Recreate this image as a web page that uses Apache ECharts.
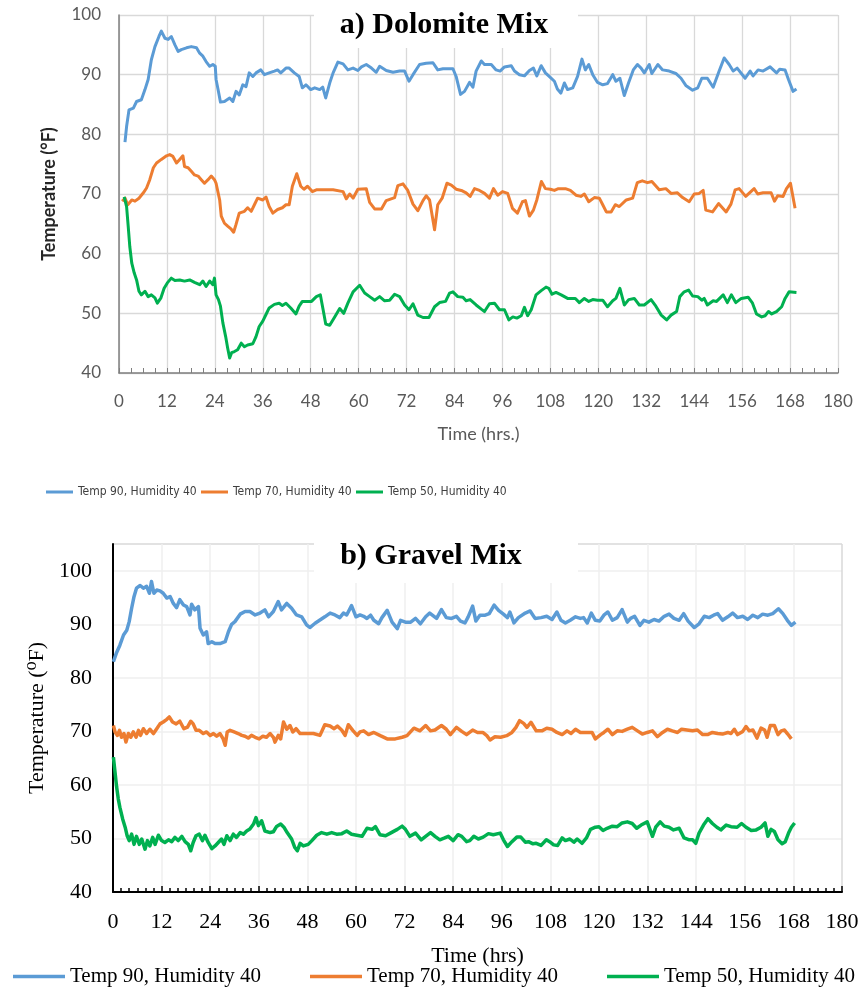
<!DOCTYPE html>
<html>
<head>
<meta charset="utf-8">
<script src="https://cdn.jsdelivr.net/npm/echarts@6/dist/echarts.min.js"></script>
<style>
  html, body { margin: 0; padding: 0; background: #fff; }
  #chart { width: 862px; height: 991px; }
</style>
</head>
<body>
<div id="chart"></div>
<script>
// Temperature logs, [hour, °F] pairs
const dolomite90 = [[1.5,78.7],[1.9,81.3],[2.5,84.1],[3.6,84.4],[4.4,85.5],[5.6,85.8],[6.5,87.5],[7.3,89.2],[8.1,92.5],[9.0,94.7],[10.0,96.4],[10.6,97.3],[11.5,96.1],[12.3,95.9],[13.1,96.4],[14.0,95.0],[14.8,93.9],[15.6,94.2],[16.9,94.5],[18.1,94.7],[19.4,94.5],[20.2,93.6],[21.0,93.1],[21.8,92.2],[22.7,91.4],[23.5,91.7],[24.1,91.4],[24.3,89.2],[24.8,87.5],[25.4,85.4],[26.4,85.5],[27.7,86.1],[28.5,85.5],[29.3,87.2],[30.1,86.6],[31.0,88.3],[31.8,88.0],[32.6,90.3],[33.5,89.7],[34.3,90.3],[35.5,90.8],[36.4,90.0],[37.6,90.3],[38.9,90.6],[39.7,90.8],[40.5,90.3],[41.8,91.1],[42.6,91.1],[43.9,90.3],[45.1,89.7],[45.9,87.8],[46.8,88.3],[48.0,87.5],[49.0,87.8],[50.25,87.5],[51.0,87.9],[51.75,86.1],[52.75,88.6],[53.6,90.3],[54.8,92.1],[56.1,91.8],[57.3,90.8],[58.6,91.1],[59.8,90.7],[60.7,91.3],[61.9,91.7],[63.2,91.1],[64.4,90.4],[65.25,91.4],[66.9,90.7],[68.6,90.4],[70.25,90.6],[71.5,90.6],[72.6,88.9],[73.6,90.0],[75.25,91.7],[76.9,91.9],[78.6,92.0],[79.8,90.8],[81.1,91.0],[83.6,91.0],[84.4,89.7],[85.5,86.7],[86.5,87.2],[87.75,88.7],[88.6,87.9],[89.4,90.6],[90.7,92.3],[91.5,91.7],[93.2,91.7],[94.4,90.8],[95.4,90.6],[96.5,91.3],[98.2,91.5],[99.0,90.6],[100.25,90.0],[101.5,89.8],[102.75,90.7],[103.75,91.1],[104.6,89.8],[105.7,91.5],[106.75,90.3],[107.9,89.6],[109.0,88.9],[109.75,87.6],[110.6,86.9],[111.5,88.6],[112.3,87.5],[113.6,87.8],[114.8,89.7],[115.9,92.6],[116.75,90.8],[117.6,91.7],[118.6,90.0],[119.8,88.7],[121.1,88.3],[122.3,88.5],[123.6,90.0],[124.4,88.9],[125.4,89.4],[126.5,86.5],[127.6,88.7],[128.75,90.8],[129.8,91.7],[130.7,91.1],[131.5,90.3],[132.75,91.7],[133.4,90.2],[134.9,91.7],[136.1,90.8],[137.75,90.6],[139.4,90.2],[140.7,89.4],[141.9,88.2],[143.6,87.4],[144.9,87.8],[145.9,89.4],[147.3,89.4],[148.75,87.9],[150.25,90.6],[151.5,92.8],[152.75,91.7],[153.75,90.6],[154.75,91.1],[156.75,89.4],[158.0,90.6],[158.75,89.8],[160.0,90.8],[161.25,90.6],[163.0,91.3],[164.6,90.3],[165.4,90.9],[166.75,90.8],[167.6,89.2],[168.75,87.2],[169.6,87.6]];

const dolomite70 = [[0.8,68.8],[1.5,69.3],[2.2,68.2],[3.2,69.0],[4.0,68.8],[5.0,69.3],[6.1,70.2],[6.9,71.0],[7.7,72.4],[8.6,74.4],[9.4,75.2],[10.6,75.8],[11.9,76.4],[12.7,76.6],[13.5,76.3],[14.4,75.2],[15.2,75.8],[16.0,76.4],[16.4,74.6],[17.3,74.4],[18.1,73.8],[18.9,73.2],[19.8,73.0],[20.6,72.4],[21.4,71.8],[22.3,72.4],[23.1,73.0],[23.9,72.4],[24.3,71.8],[25.2,69.0],[25.6,66.3],[26.4,65.1],[27.2,64.6],[28.1,64.1],[28.7,63.6],[29.3,64.9],[30.1,66.8],[31.4,67.1],[32.2,67.7],[33.1,67.1],[33.9,68.2],[34.7,69.3],[36.0,69.0],[36.8,69.5],[37.6,67.9],[38.5,66.8],[39.7,67.4],[40.9,67.7],[41.8,68.2],[42.6,68.2],[43.4,71.3],[44.5,73.4],[45.5,71.3],[46.3,70.8],[47.2,71.3],[48.4,70.4],[49.4,70.7],[51.5,70.7],[53.6,70.7],[56.1,70.4],[56.9,69.2],[57.75,70.0],[58.6,69.3],[59.8,70.8],[61.9,70.9],[62.75,68.6],[64.0,67.5],[65.7,67.5],[66.9,68.9],[69.0,69.4],[69.8,71.4],[71.1,71.7],[72.3,70.6],[73.6,68.3],[74.8,67.2],[76.1,68.9],[76.9,69.7],[77.75,69.0],[78.6,65.6],[79.0,64.0],[79.8,68.2],[80.9,69.3],[82.1,71.8],[83.2,71.5],[84.4,70.8],[85.7,70.6],[86.9,70.2],[87.9,69.6],[89.0,70.9],[90.25,70.6],[91.5,70.1],[92.75,69.3],[93.75,70.9],[94.8,69.8],[96.0,70.4],[97.3,70.1],[98.5,67.6],[99.75,66.8],[101.0,68.7],[101.75,68.9],[102.75,66.3],[103.75,67.3],[104.6,69.0],[105.75,72.1],[106.75,70.9],[108.0,70.8],[109.0,70.6],[110.0,70.9],[111.75,70.9],[113.0,70.6],[114.4,69.8],[115.6,69.6],[116.5,70.0],[117.6,68.7],[119.0,69.4],[120.25,69.3],[121.1,68.2],[122.0,67.0],[123.2,67.0],[124.25,68.2],[125.25,67.9],[127.0,69.0],[128.6,69.3],[129.75,71.9],[131.0,72.2],[132.3,71.9],[133.4,72.1],[135.25,70.7],[136.9,70.9],[138.2,70.1],[139.8,70.2],[141.1,69.4],[142.75,68.7],[144.0,70.0],[145.25,70.1],[146.25,70.6],[146.9,67.3],[148.6,67.0],[150.1,68.4],[152.0,67.0],[153.2,68.3],[154.25,70.7],[155.25,70.9],[156.9,69.6],[159.0,70.9],[159.9,70.0],[161.25,70.2],[163.25,70.2],[164.1,68.8],[164.9,69.7],[166.25,69.6],[167.1,70.9],[168.1,71.8],[169.25,67.6]];

const dolomite50 = [[1.3,69.5],[1.9,67.9],[2.3,64.6],[2.7,61.2],[3.2,58.4],[3.8,56.8],[4.4,55.6],[5.0,53.7],[5.6,53.1],[6.5,53.7],[7.3,52.8],[8.1,53.1],[9.0,52.6],[9.6,51.7],[10.5,52.6],[11.3,54.2],[12.1,55.1],[13.1,55.9],[14.0,55.5],[15.2,55.6],[16.4,55.4],[17.7,55.6],[18.9,55.2],[20.2,54.8],[21.0,55.4],[21.8,54.5],[22.7,55.4],[23.5,54.8],[23.9,55.9],[24.3,53.1],[24.9,52.3],[25.4,51.2],[26.0,48.4],[26.7,46.1],[27.2,44.2],[27.7,42.5],[28.2,43.4],[28.9,43.6],[29.7,43.9],[30.6,45.0],[31.4,44.4],[32.2,44.7],[33.5,44.9],[34.3,46.1],[35.1,47.8],[36.0,48.7],[36.8,49.8],[37.6,50.9],[38.9,51.5],[40.1,51.7],[40.9,51.3],[41.8,51.7],[43.0,50.9],[44.3,49.9],[45.1,51.2],[45.9,52.0],[47.2,52.0],[48.2,52.0],[49.4,52.8],[50.4,53.1],[51.1,50.6],[51.75,48.2],[52.75,48.0],[54.0,49.4],[55.25,50.8],[56.25,50.0],[57.3,51.7],[58.6,53.6],[60.25,54.7],[61.5,53.4],[62.75,52.8],[64.0,52.2],[65.25,52.8],[66.5,52.1],[67.75,52.2],[69.0,53.2],[70.25,52.8],[71.5,51.4],[72.6,50.6],[73.6,51.6],[74.8,49.7],[76.1,49.3],[77.6,49.3],[79.0,51.1],[80.25,51.8],[81.75,52.0],[82.75,53.4],[83.6,53.6],[84.8,52.8],[86.1,52.7],[86.9,52.1],[87.9,52.3],[89.4,51.4],[90.7,50.7],[91.5,50.3],[92.75,51.6],[94.0,51.7],[95.25,50.6],[96.5,50.6],[97.6,48.9],[98.6,49.4],[99.6,49.2],[100.7,49.6],[101.5,51.0],[102.3,49.6],[103.2,50.6],[104.4,53.1],[105.7,53.8],[106.9,54.4],[107.6,54.2],[108.4,53.2],[109.4,53.5],[110.7,53.1],[112.3,52.5],[114.25,52.5],[115.25,51.8],[116.5,52.5],[117.6,52.0],[118.6,52.3],[119.8,52.2],[121.1,52.2],[122.3,51.1],[123.6,52.1],[124.4,52.5],[125.4,54.2],[126.5,51.4],[127.6,52.3],[129.0,52.5],[130.25,51.4],[131.5,51.4],[133.2,52.3],[134.4,51.2],[135.75,49.7],[137.1,48.9],[138.2,49.7],[139.6,50.3],[140.4,52.8],[141.5,53.6],[142.6,53.9],[143.6,52.9],[144.9,52.8],[145.9,52.2],[146.5,52.5],[147.3,51.4],[148.75,52.1],[149.6,52.0],[151.25,53.1],[152.3,51.8],[153.3,53.1],[154.4,51.8],[155.8,52.5],[157.5,52.7],[158.6,51.7],[159.6,49.9],[160.9,49.4],[161.75,49.6],[162.6,50.3],[163.4,49.9],[164.6,50.3],[165.9,51.1],[166.75,52.5],[167.75,53.6],[169.6,53.5]];

const gravel90 = [[0.1,83.0],[0.9,84.75],[1.7,86.1],[2.6,88.0],[3.4,88.9],[4.0,90.5],[4.6,93.0],[5.2,95.2],[5.8,96.75],[6.7,97.25],[7.5,96.75],[8.3,97.1],[9.0,95.8],[9.5,98.0],[10.1,95.8],[10.8,96.4],[11.6,96.25],[12.4,95.8],[13.3,94.9],[14.1,95.2],[14.9,93.9],[15.7,93.1],[16.5,94.6],[17.4,93.6],[18.2,93.3],[19.0,91.75],[19.4,93.75],[20.2,92.7],[21.1,93.3],[21.5,89.25],[22.3,88.0],[23.1,88.6],[23.5,86.4],[24.4,86.75],[25.2,86.4],[26.4,86.4],[27.7,86.75],[28.5,88.6],[29.3,90.0],[30.1,90.5],[31.4,91.9],[32.6,92.4],[33.8,92.4],[35.1,91.75],[36.3,92.1],[37.5,92.7],[38.4,91.4],[39.6,92.4],[40.8,94.25],[41.6,92.7],[42.9,93.9],[44.1,93.0],[45.3,91.75],[46.6,91.4],[47.8,89.9],[48.6,89.4],[49.9,90.2],[51.1,90.8],[52.3,91.4],[53.6,92.1],[54.8,91.75],[56.0,91.25],[56.9,92.1],[57.7,91.75],[58.9,93.5],[60.0,91.4],[61.0,91.75],[61.9,91.5],[62.7,91.1],[63.6,91.7],[64.4,90.75],[65.6,90.1],[66.4,91.25],[67.7,92.6],[68.9,90.4],[70.2,89.2],[71.0,90.75],[72.2,90.4],[73.5,90.4],[74.7,91.1],[75.9,90.1],[77.2,91.4],[78.2,92.1],[79.9,91.1],[81.1,92.75],[82.3,91.25],[83.6,91.1],[84.8,91.5],[85.8,90.6],[86.9,90.25],[87.7,91.4],[88.8,93.4],[89.6,90.6],[90.6,91.7],[91.9,91.7],[92.9,92.0],[94.1,93.6],[95.2,92.6],[96.4,91.9],[97.4,91.25],[98.0,92.3],[99.0,90.25],[100.1,91.25],[101.8,92.1],[103.0,92.5],[104.2,91.1],[105.7,91.25],[107.1,91.5],[108.4,90.9],[109.6,92.3],[110.6,90.75],[111.7,90.25],[112.9,90.75],[114.2,91.4],[115.4,91.1],[116.2,91.25],[117.1,90.25],[118.1,92.1],[119.1,90.75],[120.2,90.6],[121.2,91.7],[122.2,92.3],[123.3,90.75],[124.5,91.25],[125.7,92.75],[127.0,90.4],[127.8,91.1],[128.8,91.5],[130.1,89.8],[131.1,90.75],[132.3,90.4],[133.6,90.9],[134.8,90.6],[136.1,91.5],[137.3,91.9],[138.5,91.1],[139.8,90.75],[140.9,92.0],[142.0,90.6],[143.5,89.4],[144.7,90.1],[146.0,91.5],[147.2,91.25],[148.3,91.7],[149.3,92.0],[150.5,90.75],[151.8,91.4],[153.0,92.1],[154.2,91.25],[155.5,91.5],[156.7,90.9],[158.0,91.7],[159.2,91.25],[160.4,91.9],[161.7,91.7],[162.9,92.0],[164.3,92.9],[165.4,92.0],[166.5,90.75],[167.5,89.8],[168.5,90.4]];

const gravel70 = [[0.1,71.1],[0.5,69.9],[1.1,69.25],[1.6,70.2],[2.1,68.9],[2.7,69.6],[3.2,68.0],[3.8,69.6],[4.4,68.9],[5.0,69.9],[5.7,68.9],[6.3,70.2],[6.8,69.25],[7.5,70.5],[8.3,69.6],[9.1,70.4],[10.0,69.6],[10.8,70.5],[11.6,71.4],[12.4,71.75],[13.3,72.25],[13.9,72.7],[14.7,71.75],[15.6,71.4],[16.5,71.9],[17.5,70.5],[18.4,70.8],[19.2,71.9],[19.8,71.4],[20.5,70.2],[21.3,70.2],[22.3,69.6],[23.1,69.9],[24.0,69.25],[24.8,69.6],[25.6,69.1],[26.4,69.6],[27.2,68.6],[27.7,67.4],[28.2,69.9],[28.9,70.2],[29.9,69.9],[30.9,69.6],[31.8,69.25],[32.6,69.1],[33.4,68.75],[34.2,69.25],[35.1,68.9],[36.1,68.6],[37.0,69.1],[37.9,68.9],[38.8,69.6],[39.6,68.9],[40.0,68.0],[40.8,69.25],[41.4,68.6],[42.1,71.75],[42.9,70.4],[43.7,71.1],[44.4,69.9],[45.2,70.5],[46.2,69.6],[47.8,69.6],[49.5,69.6],[51.1,69.25],[52.3,71.25],[53.6,71.0],[54.6,70.5],[55.4,71.0],[56.5,70.2],[57.3,69.25],[58.1,71.25],[59.2,70.2],[60.3,69.25],[61.0,69.9],[61.9,70.1],[63.1,69.4],[64.4,69.8],[66.0,69.2],[67.7,68.6],[69.7,68.6],[71.4,68.9],[72.6,69.2],[74.3,70.6],[75.8,70.1],[77.2,71.1],[78.4,70.1],[79.5,70.25],[81.1,71.1],[82.3,70.4],[83.3,69.4],[84.8,70.75],[86.1,70.0],[87.3,69.4],[88.8,70.25],[90.0,69.8],[91.3,69.8],[92.3,69.2],[93.1,68.4],[94.3,69.0],[95.7,68.9],[97.2,69.2],[98.5,69.8],[99.5,70.75],[100.4,72.0],[101.4,71.5],[102.2,70.75],[103.2,71.7],[104.5,70.1],[105.9,70.1],[107.1,70.6],[108.4,70.4],[109.6,69.8],[110.9,69.4],[112.1,70.1],[113.1,69.6],[114.2,70.4],[115.4,69.8],[117.1,69.8],[118.3,69.8],[119.1,68.6],[120.4,69.4],[121.2,69.8],[122.2,70.4],[123.3,69.4],[124.5,70.1],[125.7,70.0],[127.0,70.4],[128.2,70.75],[129.5,70.1],[130.7,69.5],[131.9,69.8],[133.2,70.1],[134.4,69.0],[135.7,69.8],[136.9,70.4],[138.1,70.1],[139.4,69.8],[140.4,70.4],[141.7,70.25],[143.1,70.1],[144.3,70.25],[145.6,69.4],[146.8,69.4],[148.0,69.8],[149.3,69.6],[150.5,69.5],[151.8,69.8],[152.6,69.6],[153.4,70.4],[154.2,69.4],[155.5,70.0],[156.3,70.9],[157.1,70.1],[158.0,70.25],[159.0,68.75],[160.0,70.6],[160.9,70.25],[161.5,68.9],[162.3,71.1],[163.3,71.1],[164.2,69.4],[165.0,70.1],[165.8,70.25],[166.6,69.5],[167.5,68.6]];

const gravel50 = [[0.1,65.2],[0.5,62.4],[0.9,59.6],[1.3,57.4],[1.7,55.8],[2.4,53.6],[3.0,52.1],[3.5,50.5],[4.0,49.6],[4.6,50.8],[5.2,48.9],[5.8,50.4],[6.5,48.9],[7.1,49.9],[7.9,48.0],[8.5,49.6],[9.1,48.6],[9.8,50.2],[10.4,48.9],[11.2,50.6],[12.0,49.6],[12.8,49.25],[13.7,49.75],[14.5,49.4],[15.3,50.2],[16.1,49.6],[17.0,50.4],[17.8,49.4],[18.6,48.9],[19.2,47.7],[19.8,49.25],[20.5,50.5],[21.3,50.8],[22.1,49.6],[22.7,50.6],[23.5,49.25],[24.4,48.1],[25.2,48.6],[26.0,49.25],[26.8,49.9],[27.4,48.9],[28.1,50.5],[28.9,49.6],[29.7,50.8],[30.5,50.2],[31.4,51.1],[32.2,50.8],[33.0,51.4],[33.8,51.75],[34.7,52.7],[35.3,53.9],[35.9,52.4],[36.7,53.3],[37.5,51.4],[38.8,51.1],[39.6,51.25],[40.4,52.25],[41.4,52.7],[42.2,52.1],[43.0,51.1],[44.1,49.9],[44.9,48.3],[45.5,47.7],[46.2,49.1],[47.0,48.6],[48.2,48.9],[49.1,49.6],[50.3,50.6],[51.5,51.1],[52.8,50.8],[54.0,51.1],[55.2,50.8],[56.5,50.9],[57.7,51.4],[58.9,50.8],[60.2,50.6],[61.5,50.4],[62.7,51.9],[64.0,51.7],[64.8,52.2],[65.9,50.7],[67.3,50.5],[68.5,51.0],[70.2,51.7],[71.4,52.3],[72.2,51.7],[73.3,50.4],[74.7,51.0],[76.1,49.75],[77.2,50.4],[78.4,51.1],[79.5,50.4],[80.7,49.75],[81.9,50.1],[82.8,50.4],[84.0,49.6],[85.2,50.7],[86.1,50.4],[87.3,49.4],[88.1,49.6],[89.1,50.4],[90.2,49.9],[91.4,50.25],[92.7,50.9],[93.9,50.7],[95.6,51.0],[96.4,49.75],[97.4,48.5],[98.5,49.4],[99.7,50.25],[100.7,50.25],[101.8,49.3],[102.6,49.4],[103.7,49.0],[104.5,49.1],[105.7,48.7],[107.0,49.75],[107.8,49.4],[108.8,48.8],[109.8,48.7],[110.9,50.1],[111.7,49.6],[112.8,49.9],[113.8,49.3],[114.6,49.9],[115.8,49.1],[116.9,50.1],[117.9,51.7],[119.1,52.1],[120.0,52.2],[121.0,51.5],[122.0,51.9],[123.3,52.3],[124.5,52.2],[125.7,52.9],[127.0,53.1],[128.2,52.8],[129.3,51.9],[130.4,52.5],[131.9,53.1],[133.2,50.4],[134.0,52.1],[135.1,53.1],[136.1,52.3],[137.3,52.1],[138.4,51.6],[139.8,51.9],[141.0,50.1],[142.3,49.75],[143.1,49.75],[143.9,49.1],[144.7,51.0],[145.8,52.5],[146.9,53.7],[148.0,52.8],[149.1,52.1],[150.1,51.6],[151.4,52.5],[152.6,52.2],[154.1,52.1],[155.2,52.8],[156.3,52.1],[157.6,51.5],[158.8,51.6],[160.0,52.1],[161.0,52.9],[161.7,50.4],[162.5,51.7],[163.3,51.3],[164.2,49.75],[165.2,49.0],[166.0,49.4],[166.8,51.0],[167.5,52.1],[168.3,52.9]];

const seriesNames = ['Temp 90, Humidity 40', 'Temp 70, Humidity 40', 'Temp 50, Humidity 40'];
const seriesColors = ['#5b9bd5', '#ed7d31', '#00b050'];
const panelTitles = ['a) Dolomite Mix', 'b) Gravel Mix'];
const timeAxisNames = ['Time (hrs.)', 'Time (hrs)'];
const tempAxisNames = ['Temperature (°F)', 'Temperature (\u2070F)'];

const sansFont = 'Lato, "Open Sans", sans-serif';
const narrowFont = '"Liberation Sans Narrow", "DejaVu Sans Condensed", Lato, sans-serif';
const serifFont = '"Liberation Serif", "DejaVu Serif", serif';

// one colour per split line; the last line doubles as the plot border
function splitColors(count, inner, edge) {
  const list = new Array(count).fill(inner);
  list[count - 1] = edge;
  return list;
}

function lineSeries(name, data, color, panel, width) {
  return {
    type: 'line', name, data,
    xAxisIndex: panel, yAxisIndex: panel,
    showSymbol: false, symbol: 'none',
    lineStyle: { color, width, join: 'round' },
    itemStyle: { color },
    emphasis: { disabled: true },
    animation: false, z: 3
  };
}

function legendItem(name, left, top, width, height, textStyle) {
  return {
    data: [name], left, top, padding: 0,
    icon: 'rect', itemWidth: width, itemHeight: height, itemGap: 0,
    textStyle, selectedMode: false
  };
}

const chart = echarts.init(document.getElementById('chart'), null, { renderer: 'canvas' });

const topText = { fontFamily: narrowFont, fontSize: 12, color: '#404040' };
const botText = { fontFamily: serifFont, fontSize: 21, color: '#000' };

chart.setOption({
  backgroundColor: '#fff',
  animation: false,
  title: [
    { text: panelTitles[0], left: 444, top: 10, textAlign: 'center', padding: 0, z: 11,
      textStyle: { fontFamily: serifFont, fontWeight: 'bold', fontSize: 30, color: '#000' } },
    { text: panelTitles[1], left: 431, top: 541, textAlign: 'center', padding: 0, z: 11,
      textStyle: { fontFamily: serifFont, fontWeight: 'bold', fontSize: 30, color: '#000' } }
  ],
  graphic: [
    { type: 'rect', shape: { x: 314, y: 0, width: 264, height: 48 }, style: { fill: '#fff' }, z: 10, silent: true },
    { type: 'rect', shape: { x: 314, y: 530, width: 264, height: 53 }, style: { fill: '#fff' }, z: 10, silent: true }
  ],
  legend: [
    legendItem(seriesNames[0], 46, 486, 27, 3, topText),
    legendItem(seriesNames[1], 201, 486, 27, 3, topText),
    legendItem(seriesNames[2], 356, 486, 27, 3, topText),
    legendItem(seriesNames[0], 13, 966, 52, 3.5, botText),
    legendItem(seriesNames[1], 310, 966, 52, 3.5, botText),
    legendItem(seriesNames[2], 607, 966, 52, 3.5, botText)
  ],
  grid: [
    { left: 119, top: 15, width: 719, height: 358 },
    { left: 113, top: 544, width: 729, height: 348 }
  ],
  xAxis: [
    {
      type: 'value', gridIndex: 0, min: 0, max: 180, interval: 12,
      axisLine: { show: true, lineStyle: { color: '#7f7f7f', width: 1.5 } },
      axisTick: { show: true, inside: true, length: 5, lineStyle: { color: '#7f7f7f', width: 1 } },
      minorTick: { show: true, splitNumber: 4, length: 5, lineStyle: { color: '#7f7f7f', width: 1 } },
      axisLabel: { color: '#595959', fontFamily: sansFont, fontSize: 17, margin: 20 },
      splitLine: { show: true, lineStyle: { color: '#d9d9d9', width: 1.3 } },
      name: timeAxisNames[0], nameLocation: 'middle', nameGap: 52,
      nameTextStyle: { fontFamily: sansFont, fontSize: 18, color: '#595959' }
    },
    {
      type: 'value', gridIndex: 1, min: 0, max: 180, interval: 12,
      axisLine: { show: true, lineStyle: { color: '#000', width: 2 } },
      axisTick: { show: true, inside: true, length: 6, lineStyle: { color: '#000', width: 1.5 } },
      minorTick: { show: true, splitNumber: 6, length: 4, lineStyle: { color: '#000', width: 1.5 } },
      axisLabel: { color: '#000', fontFamily: serifFont, fontSize: 22, margin: 19 },
      splitLine: { show: true, lineStyle: { color: splitColors(16, '#efefef', '#d9d9d9'), width: 1.5 } },
      name: timeAxisNames[1], nameLocation: 'middle', nameGap: 53,
      nameTextStyle: { fontFamily: serifFont, fontSize: 22, color: '#000' }
    }
  ],
  yAxis: [
    {
      type: 'value', gridIndex: 0, min: 40, max: 100, interval: 10,
      axisLine: { show: true, lineStyle: { color: '#7f7f7f', width: 1.5 } },
      axisTick: { show: false },
      axisLabel: { color: '#595959', fontFamily: sansFont, fontSize: 17, margin: 18 },
      splitLine: { show: true, lineStyle: { color: '#d9d9d9', width: 1.3 } },
      name: tempAxisNames[0], nameLocation: 'middle', nameGap: 61,
      nameTextStyle: { fontFamily: sansFont, fontSize: 18, fontWeight: 'bold', color: '#262626' }
    },
    {
      type: 'value', gridIndex: 1, min: 40, max: 105, interval: 10,
      axisLine: { show: true, lineStyle: { color: '#000', width: 2 } },
      axisTick: { show: false },
      axisLabel: { color: '#000', fontFamily: serifFont, fontSize: 22, margin: 21, showMaxLabel: false },
      splitLine: { show: true, lineStyle: { color: splitColors(8, '#efefef', '#d9d9d9'), width: 1.5 } },
      name: tempAxisNames[1], nameLocation: 'middle', nameGap: 64,
      nameTextStyle: { fontFamily: serifFont, fontSize: 22, color: '#000' }
    }
  ],
  series: [
    lineSeries(seriesNames[0], dolomite90, seriesColors[0], 0, 3),
    lineSeries(seriesNames[1], dolomite70, seriesColors[1], 0, 3),
    lineSeries(seriesNames[2], dolomite50, seriesColors[2], 0, 3),
    lineSeries(seriesNames[0], gravel90, seriesColors[0], 1, 3.5),
    lineSeries(seriesNames[1], gravel70, seriesColors[1], 1, 3.5),
    lineSeries(seriesNames[2], gravel50, seriesColors[2], 1, 3.5)
  ]
});
</script>
</body>
</html>
